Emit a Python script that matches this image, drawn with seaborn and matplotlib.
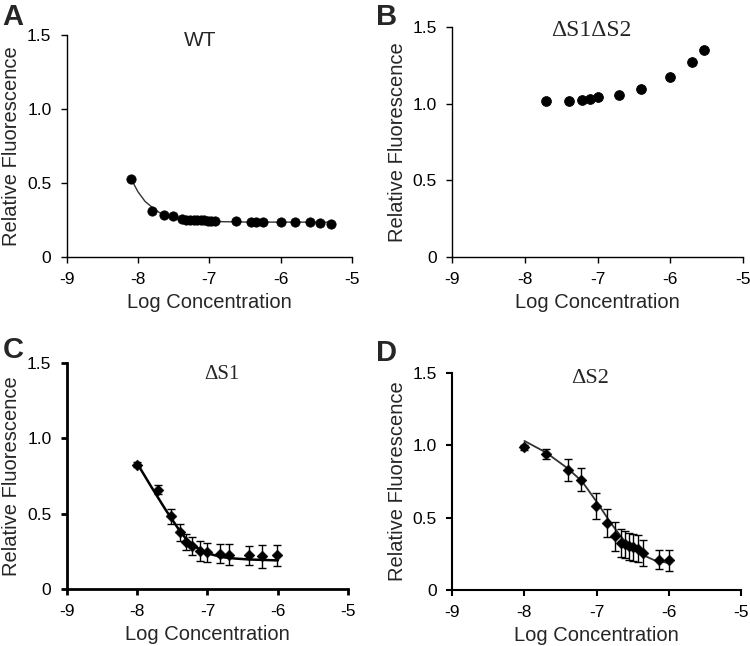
# Dose-response panels: relative fluorescence vs log concentration

import numpy as np
import pandas as pd
import seaborn as sns
import matplotlib.pyplot as plt

# ---- data ----
# A: WT
wt_x = [-8.10, -7.80, -7.64, -7.51, -7.39, -7.33, -7.27, -7.22, -7.17, -7.12,
        -7.07, -7.02, -6.97, -6.92, -6.62, -6.42, -6.34, -6.25, -5.99, -5.80,
        -5.59, -5.45, -5.29]
wt_y = [0.527, 0.313, 0.284, 0.277, 0.255, 0.250, 0.250, 0.248, 0.248, 0.247,
        0.247, 0.246, 0.246, 0.246, 0.240, 0.238, 0.238, 0.237, 0.236, 0.234,
        0.233, 0.232, 0.225]
wt_fit_x = [-8.10, -8.00, -7.90, -7.80, -7.70, -7.60, -7.50, -7.40, -7.20, -7.00, -6.50, -5.30]
wt_fit_y = [0.530, 0.440, 0.375, 0.335, 0.300, 0.280, 0.265, 0.255, 0.245, 0.240, 0.236, 0.235]

# B: dS1dS2
dd_x = [-7.71, -7.40, -7.22, -7.10, -7.00, -6.70, -6.41, -6.00, -5.70, -5.54]
dd_y = [1.019, 1.019, 1.025, 1.032, 1.043, 1.058, 1.097, 1.178, 1.274, 1.352]

# C: dS1
s1_x = [-8.00, -7.70, -7.52, -7.39, -7.30, -7.22, -7.10, -7.00, -6.82, -6.69, -6.41, -6.22, -6.01]
s1_y = [0.825, 0.659, 0.482, 0.376, 0.312, 0.283, 0.254, 0.243, 0.235, 0.228, 0.223, 0.217, 0.223]
s1_err = [0.015, 0.030, 0.050, 0.055, 0.055, 0.060, 0.065, 0.065, 0.065, 0.068, 0.065, 0.075, 0.072]
s1_fit_x = [-8.00, -7.80, -7.60, -7.50, -7.40, -7.30, -7.20, -7.10, -7.00, -6.80, -6.60, -6.40, -6.00]
s1_fit_y = [0.835, 0.680, 0.530, 0.460, 0.390, 0.330, 0.290, 0.260, 0.237, 0.212, 0.202, 0.196, 0.190]

# D: dS2
s2_x = [-8.00, -7.70, -7.40, -7.22, -7.01, -6.86, -6.75, -6.66, -6.60, -6.55, -6.49, -6.43, -6.35, -6.14, -6.00]
s2_y = [0.985, 0.942, 0.831, 0.762, 0.577, 0.462, 0.369, 0.323, 0.314, 0.300, 0.293, 0.285, 0.254, 0.208, 0.203]
s2_err = [0.020, 0.035, 0.075, 0.080, 0.090, 0.095, 0.100, 0.095, 0.095, 0.095, 0.095, 0.095, 0.090, 0.065, 0.070]
s2_fit_x = [-8.00, -7.70, -7.40, -7.20, -7.00, -6.80, -6.60, -6.40, -6.20, -6.00]
s2_fit_y = [1.030, 0.950, 0.840, 0.750, 0.610, 0.460, 0.330, 0.250, 0.205, 0.185]

xticks = [-9, -8, -7, -6, -5]
yticks = [0, 0.5, 1.0, 1.5]
ytick_labels = ["0", "0.5", "1.0", "1.5"]

sns.set_style("ticks")
plt.rcParams['font.family'] = ['Liberation Sans', 'DejaVu Sans']

fig = plt.figure(figsize=(7.5, 6.46), dpi=100)

# axes rectangles (figure fractions)
axA = fig.add_axes([0.0889, 0.6022, 0.3804, 0.3437])
axB = fig.add_axes([0.6031, 0.6022, 0.3876, 0.3556])
axC = fig.add_axes([0.0889, 0.0882, 0.3755, 0.3498])
axD = fig.add_axes([0.6031, 0.0871, 0.3845, 0.3354])


def style_axes(ax, lw):
    ax.set_xlim(-9, -5)
    ax.set_ylim(0, 1.5)
    ax.set_xticks(xticks)
    ax.set_xticklabels([str(t) for t in xticks])
    ax.set_yticks(yticks)
    ax.set_yticklabels(ytick_labels)
    sns.despine(ax=ax)
    for s in ["left", "bottom"]:
        ax.spines[s].set_linewidth(lw)
        ax.spines[s].set_color("black")
    ax.tick_params(axis="x", direction="out", length=4, width=lw, labelsize=12.5, colors="black", pad=7)
    ax.tick_params(axis="y", direction="out", length=4, width=lw, labelsize=12.5, colors="black", pad=7)
    ax.set_xlabel("Log Concentration", fontsize=14.5, labelpad=4)
    ax.set_ylabel("Relative Fluorescence", fontsize=14.5, labelpad=4)
    ax.patch.set_alpha(0)


# A
sns.lineplot(x=wt_fit_x, y=wt_fit_y, ax=axA, color="#333333", lw=1.0)
sns.scatterplot(x=wt_x, y=wt_y, ax=axA, color="black", s=45, marker="o", edgecolor="black", zorder=3)
style_axes(axA, 1.0)
axA.text(0.467, 0.977, "WT", transform=axA.transAxes, ha="center", va="center", fontsize=15)

# B
sns.scatterplot(x=dd_x, y=dd_y, ax=axB, color="black", s=50, marker="o", edgecolor="black", zorder=3)
style_axes(axB, 1.0)
axB.text(0.477, 0.985, "\u0394S1\u0394S2", transform=axB.transAxes, ha="center", va="center",
         fontsize=17, family="Liberation Serif")

# C
sns.lineplot(x=s1_fit_x, y=s1_fit_y, ax=axC, color="black", lw=1.8)
axC.errorbar(s1_x, s1_y, yerr=s1_err, fmt="none", ecolor="black", elinewidth=1.0, capsize=3, capthick=1.0)
sns.scatterplot(x=s1_x, y=s1_y, ax=axC, color="black", s=30, marker="D", edgecolor="black", zorder=3)
style_axes(axC, 2.0)
axC.text(0.55, 0.948, "\u0394S1", transform=axC.transAxes, ha="center", va="center",
         fontsize=15, family="Liberation Serif")

# D
sns.lineplot(x=s2_fit_x, y=s2_fit_y, ax=axD, color="#333333", lw=1.3)
axD.errorbar(s2_x, s2_y, yerr=s2_err, fmt="none", ecolor="black", elinewidth=1.0, capsize=3, capthick=1.0)
sns.scatterplot(x=s2_x, y=s2_y, ax=axD, color="black", s=30, marker="D", edgecolor="black", zorder=3)
style_axes(axD, 1.5)
axD.text(0.477, 0.977, "\u0394S2", transform=axD.transAxes, ha="center", va="center",
         fontsize=16, family="Liberation Serif")

# panel letters
for lbl, x, y in [("A", 0.003, 0.996), ("B", 0.502, 0.996), ("C", 0.003, 0.480), ("D", 0.501, 0.475)]:
    fig.text(x, y, lbl, fontsize=21, fontweight="bold", ha="left", va="top")

plt.savefig("out.png", dpi=100)
